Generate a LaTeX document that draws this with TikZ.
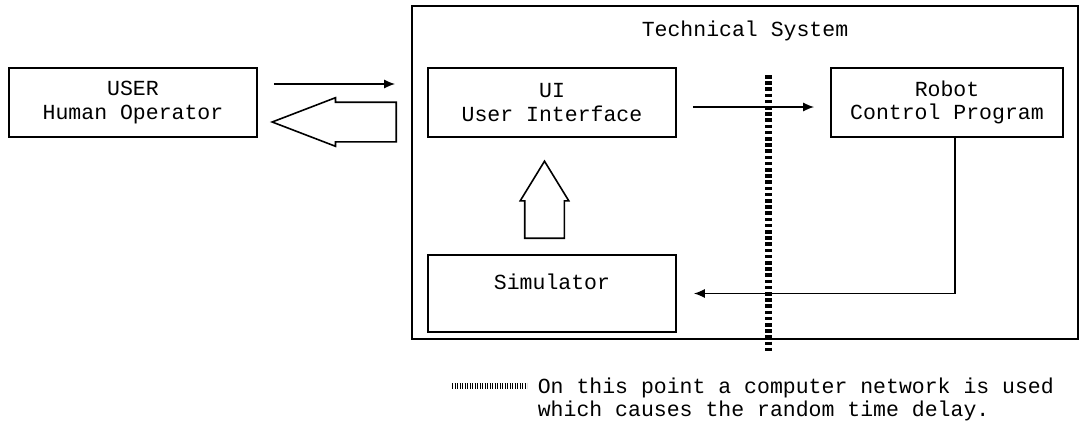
\documentclass[tikz,border=0pt]{standalone}
\usepackage{fontspec}
\setmonofont{Liberation Mono}
\usepackage{tikz}
\usetikzlibrary{arrows.meta,shapes.arrows}
\tikzset{SYSbox/.style={shape=rectangle,draw,line width=.8pt,inner sep=0pt,align=center,font=\ttfamily\fontsize{10.75}{11.75}\selectfont}}
\tikzset{FATarrow/.style={shape=single arrow,draw,line width=.8pt,inner xsep=0pt,inner ysep=9.5pt,single arrow head extend=2.25pt,minimum width=23.5pt,anchor=tail}}
\tikzset{NETline/.style={line width=3.5pt,dash pattern=on 1.8pt off 1.3pt}}

\begin{document}
\begin{tikzpicture}[x=.5pt,y=-.5pt]
	\useasboundingbox (0,0) rectangle (1083,423);
	\node[SYSbox,minimum width=124pt,minimum height=34.5pt] (user) at (133,102.5) {USER\\Human Operator};
	\node[SYSbox,minimum width=333pt,minimum height=166.5pt] (tech) at (745,172.5) {};
	\node[SYSbox,draw=none] (techname) at (745,31) {Technical System};
	\node[SYSbox,minimum width=124pt,minimum height=34.5pt] (ui) at (552,102.5) {UI\\User Interface};
	\node[SYSbox,minimum width=116pt,minimum height=34.5pt] (robot) at (947,102.5) {Robot\\Control Program};
	\node[SYSbox,minimum width=124pt,minimum height=38.5pt] (sim) at (552,293.5) {Simulator\\~};
	\node[FATarrow,minimum height=62pt,single arrow tip angle=42,rotate=180] (reply) at (397,122) {};
	\node[FATarrow,minimum height=38.5pt,single arrow tip angle=63,rotate=90] (view) at (544.5,239) {};
	\coordinate (nettop) at (768,75);
	\coordinate (netbot) at (768,352);
	\coordinate (keyA) at (452,386);
	\coordinate (keyB) at (527,386);
	\node[SYSbox,draw=none,anchor=west,align=left] (note) at (537,399.5) {On this point a computer network is used\\which causes the random time delay.};
	%
	\path[->,>={Latex[length=5.5pt,width=4.5pt]},line width=.8pt,shorten >=8pt,shorten <=8pt]
	([yshift=9.25pt]user.east) edge ([yshift=9.25pt]user.east -| tech.west)
	([yshift=-2.25pt]ui.east) edge ([yshift=-2.25pt]ui.east -| robot.west);
	\draw[->,>={Latex[length=5.5pt,width=4.5pt]},line width=.8pt,shorten >=8.5pt] ([xshift=4pt]robot.south) |- (sim.east);
	\draw[NETline] (nettop) -- (netbot);
	\draw[line width=3pt,dash pattern=on .6pt off .65pt] (keyA) -- (keyB);
\end{tikzpicture}
\end{document}
